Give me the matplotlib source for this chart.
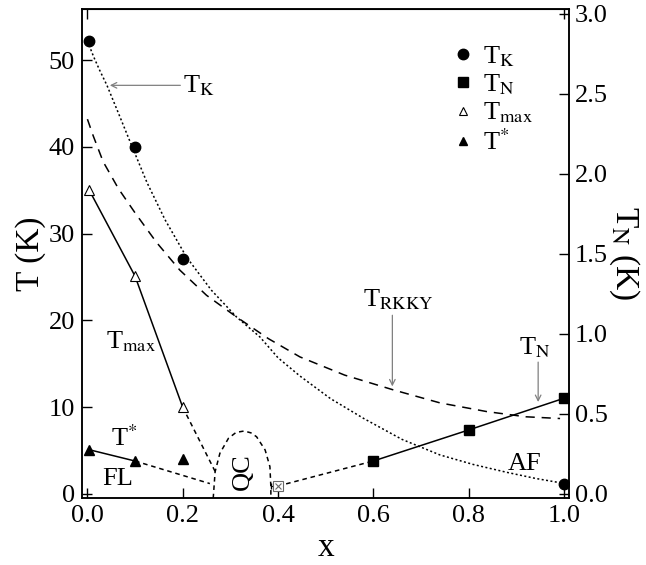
import matplotlib
matplotlib.use('Agg')
import matplotlib.pyplot as plt
from matplotlib.lines import Line2D

plt.rcParams['font.family'] = ['Liberation Serif', 'DejaVu Serif']
plt.rcParams['mathtext.fontset'] = 'stix'

# data (left axis T in K, right axis T_N in K)
x_tk = [0.004, 0.1, 0.2, 1.0]
tk = [52.2, 40.0, 27.1, 1.1]

x_tmax = [0.004, 0.1, 0.2]
tmax = [35.0, 25.1, 10.0]

x_tstar = [0.004, 0.1, 0.2]
tstar = [5.1, 3.8, 4.0]

x_tn = [0.6, 0.8, 1.0]
tn = [0.206, 0.40, 0.598]
x_tn0 = 0.4
tn0 = 0.05

# guide curves
x_tk_curve = [0.0, 0.013, 0.026, 0.041, 0.065, 0.094, 0.125, 0.163, 0.208, 0.26,
              0.313, 0.362, 0.40, 0.446, 0.51, 0.58, 0.66, 0.74, 0.81, 0.88, 0.94, 0.992]
tk_curve = [52.2, 50.4, 48.8, 47.1, 43.9, 40.0, 35.9, 31.6, 27.3, 23.5,
            20.4, 18.1, 15.7, 13.6, 11.0, 8.7, 6.3, 4.5, 3.4, 2.5, 1.8, 1.3]

x_rkky = [0.0, 0.012, 0.033, 0.065, 0.1, 0.145, 0.194, 0.25, 0.313, 0.38, 0.446,
          0.54, 0.642, 0.74, 0.838, 0.92, 0.992]
t_rkky = [43.2, 41.3, 38.3, 35.2, 32.4, 29.0, 25.8, 22.9, 20.4, 17.9, 15.8,
          13.7, 12.0, 10.5, 9.5, 8.9, 8.7]

x_qc = [0.264, 0.268, 0.278, 0.296, 0.312, 0.329, 0.343, 0.355, 0.373, 0.383, 0.385, 0.385]
t_qc = [-0.5, 2.57, 4.69, 6.42, 7.1, 7.26, 7.05, 6.6, 5.07, 3.15, 0.84, -0.5]

x_tmax_end = [0.2, 0.268]
tmax_end = [10.0, 2.6]
x_tstar_end = [0.1, 0.257]
tstar_end = [3.8, 1.2]

fig = plt.figure(figsize=(6.46, 5.65), dpi=100)
ax = fig.add_axes([0.127, 0.1186, 0.754, 0.8655])
ax2 = ax.twinx()

fs = 19

# T_K
ax.plot(x_tk_curve, tk_curve, color='black', lw=1.1, ls=(0, (1.3, 1.6)))
ax.plot(x_tk, tk, 'o', color='black', ms=7.5)

# T_RKKY
ax.plot(x_rkky, t_rkky, color='black', lw=1.1, ls=(0, (6, 4.5)))

# T_max
ax.plot(x_tmax, tmax, color='black', lw=1.1)
ax.plot(x_tmax_end, tmax_end, color='black', lw=1.1, ls=(0, (3, 2.5)))
ax.plot(x_tmax, tmax, '^', mfc='white', mec='black', mew=0.8, ms=7)

# T*
ax.plot(x_tstar[:2], tstar[:2], color='black', lw=1.1)
ax.plot(x_tstar_end, tstar_end, color='black', lw=1.1, ls=(0, (3, 2.5)))
ax.plot(x_tstar, tstar, '^', color='black', ms=7)

# QC dome
ax.plot(x_qc, t_qc, color='black', lw=1.1, ls=(0, (3, 2.5)))

# T_N on right axis
ax2.plot(x_tn, tn, color='black', lw=1.1)
ax2.plot([x_tn0, x_tn[0]], [tn0, tn[0]], color='black', lw=1.1, ls=(0, (3, 2.5)))
ax2.plot(x_tn, tn, 's', color='black', ms=7)
ax2.errorbar([x_tn0], [tn0], xerr=[[0.015], [0.0]], fmt='none', ecolor='black',
             elinewidth=0.8, capsize=2.5)
ax2.plot([x_tn0], [tn0], 's', mfc='white', mec='dimgray', mew=0.8, ms=7)
ax2.plot([x_tn0], [tn0], 'x', color='dimgray', mew=0.8, ms=5)

ax.set_xlim(-0.0113, 1.011)
ax.set_ylim(-0.46, 55.9)
ax2.set_ylim(-0.025, 3.031)

ax.set_xticks([0.0, 0.2, 0.4, 0.6, 0.8, 1.0])
ax.set_xticklabels(['0.0', '0.2', '0.4', '0.6', '0.8', '1.0'])
ax.set_yticks([0, 10, 20, 30, 40, 50])
ax2.set_yticks([0.0, 0.5, 1.0, 1.5, 2.0, 2.5, 3.0])
ax2.set_yticklabels(['0.0', '0.5', '1.0', '1.5', '2.0', '2.5', '3.0'])

ax.tick_params(axis='both', direction='in', length=7, width=1, labelsize=fs,
               top=False, right=False, pad=5)
ax2.tick_params(axis='y', direction='in', length=7, width=1, labelsize=fs, pad=4)
for a in (ax, ax2):
    for s in a.spines.values():
        s.set_linewidth(1.1)

# small top ticks at the corners
sec = ax.secondary_xaxis('top')
sec.set_xticks([0.0, 1.0])
sec.set_xticklabels([])
sec.tick_params(direction='in', length=7, width=1)

ax.set_xlabel('x', fontsize=24, labelpad=4)
ax.set_ylabel('T (K)', fontsize=24, labelpad=2)
ax2.set_ylabel(r'T$_\mathrm{N}$ (K)', fontsize=24, rotation=270, labelpad=24)

# annotations
ax.annotate('', xy=(0.047, 47.1), xytext=(0.195, 47.1),
            arrowprops=dict(arrowstyle='->', color='gray', lw=0.9, shrinkA=0, shrinkB=0))
ax.text(0.2, 47.1, r'T$_\mathrm{K}$', fontsize=fs, va='center', ha='left')

ax.annotate('', xy=(0.64, 12.4), xytext=(0.64, 20.6),
            arrowprops=dict(arrowstyle='->', color='gray', lw=0.9, shrinkA=0, shrinkB=0))
ax.text(0.652, 22.4, r'T$_\mathrm{RKKY}$', fontsize=fs, va='center', ha='center')

ax.annotate('', xy=(0.946, 10.6), xytext=(0.946, 15.2),
            arrowprops=dict(arrowstyle='->', color='gray', lw=0.9, shrinkA=0, shrinkB=0))
ax.text(0.94, 16.9, r'T$_\mathrm{N}$', fontsize=fs, va='center', ha='center')

ax.text(0.092, 17.5, r'T$_\mathrm{max}$', fontsize=fs, va='center', ha='center')
ax.text(0.077, 6.4, r'T$^{*}$', fontsize=fs, va='center', ha='center')
ax.text(0.064, 1.7, 'FL', fontsize=fs, va='center', ha='center')
ax.text(0.327, 2.6, 'QC', fontsize=fs, va='center', ha='center', rotation=90)
ax.text(0.918, 3.4, 'AF', fontsize=fs, va='center', ha='center')

handles = [
    Line2D([], [], ls='none', marker='o', color='black', ms=7.5),
    Line2D([], [], ls='none', marker='s', color='black', ms=6.5),
    Line2D([], [], ls='none', marker='^', mfc='white', mec='black', mew=0.8, ms=6),
    Line2D([], [], ls='none', marker='^', color='black', ms=6),
]
labels = [r'T$_\mathrm{K}$', r'T$_\mathrm{N}$', r'T$_\mathrm{max}$', r'T$^{*}$']
ax2.legend(handles, labels, loc='upper left', bbox_to_anchor=(0.733, 0.955),
           frameon=False, fontsize=fs, handlelength=0.8, handletextpad=0.35,
           labelspacing=0.14, borderpad=0)

fig.savefig('out.png', dpi=100)
